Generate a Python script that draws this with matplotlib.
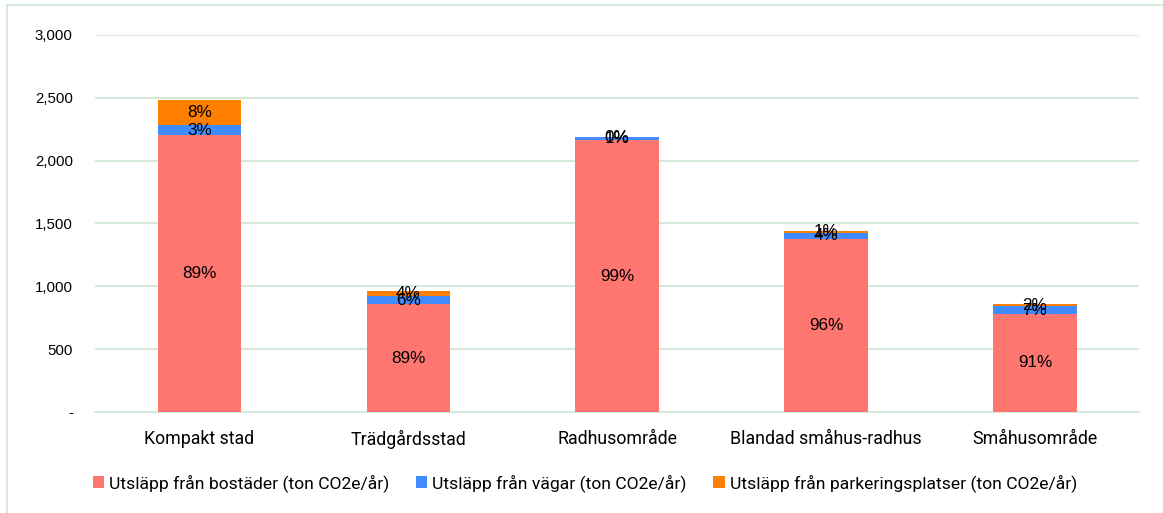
import matplotlib
matplotlib.use("Agg")
import matplotlib.pyplot as plt
from matplotlib.ticker import FuncFormatter
from matplotlib.patches import Patch
import numpy as np

categories = ["Kompakt stad", "Trädgårdsstad", "Radhusområde", "Blandad småhus-radhus", "Småhusområde"]
bostader = [2200, 858, 2160, 1375, 780]
vagar = [85, 62, 25, 52, 60]
parkering = [193, 40, 5, 10, 17]
series_names = ["Utsläpp från bostäder (ton CO2e/år)",
                "Utsläpp från vägar (ton CO2e/år)",
                "Utsläpp från parkeringsplatser (ton CO2e/år)"]
colors = ["#FF7670", "#408CFF", "#FF8000"]
grid_color = "#D2E8D6"

fig = plt.figure(figsize=(11.63, 5.13), dpi=100)
ax = fig.add_axes([0.0817, 0.197, 0.898, 0.735])

x = np.arange(len(categories))
data = [np.array(bostader, float), np.array(vagar, float), np.array(parkering, float)]
totals = sum(data)
bottom = np.zeros(len(categories))
for vals, col in zip(data, colors):
    ax.bar(x, vals, width=0.4, bottom=bottom, color=col, zorder=3)
    for xi, v, b, t in zip(x, vals, bottom, totals):
        ax.text(xi, b + v / 2, f"{round(100 * v / t):.0f}%", ha="center", va="center",
                fontsize=12.3, family="Liberation Sans", color="black", zorder=4)
    bottom = bottom + vals

ax.set_xlim(-0.5, len(categories) - 0.5)
ax.set_ylim(0, 3000)
ax.set_yticks(np.arange(0, 3001, 500))
ax.yaxis.set_major_formatter(FuncFormatter(lambda v, p: "-" if v == 0 else f"{int(v):,}"))
ax.grid(axis="y", color=grid_color, linewidth=1.3, zorder=0)
for s in ["top", "right", "left"]:
    ax.spines[s].set_visible(False)
ax.spines["bottom"].set_color(grid_color)
ax.spines["bottom"].set_linewidth(1.3)
ax.tick_params(axis="y", length=0, pad=16, labelsize=10.8)
ax.tick_params(axis="x", length=0, pad=13, labelsize=12.8)
for lab in ax.get_yticklabels():
    lab.set_family("Liberation Sans")
ax.set_xticks(x)
ax.set_xticklabels(categories, family="Roboto")

handles = [Patch(facecolor=c, edgecolor="none") for c in colors]
leg = fig.legend(handles, series_names, loc="center left", bbox_to_anchor=(0.066, 0.058),
                 ncol=3, frameon=False, handlelength=0.65, handleheight=0.65,
                 handletextpad=0.3, columnspacing=1.5,
                 prop={"family": "Roboto", "size": 12.6})

fig.add_artist(plt.Line2D([7 / 1163, 7 / 1163], [0, 1 - 5 / 513], transform=fig.transFigure,
                          color=grid_color, linewidth=1.3))
fig.add_artist(plt.Line2D([7 / 1163, 1], [1 - 5 / 513, 1 - 5 / 513], transform=fig.transFigure,
                          color=grid_color, linewidth=1.3))

fig.savefig("out.png", dpi=100)
